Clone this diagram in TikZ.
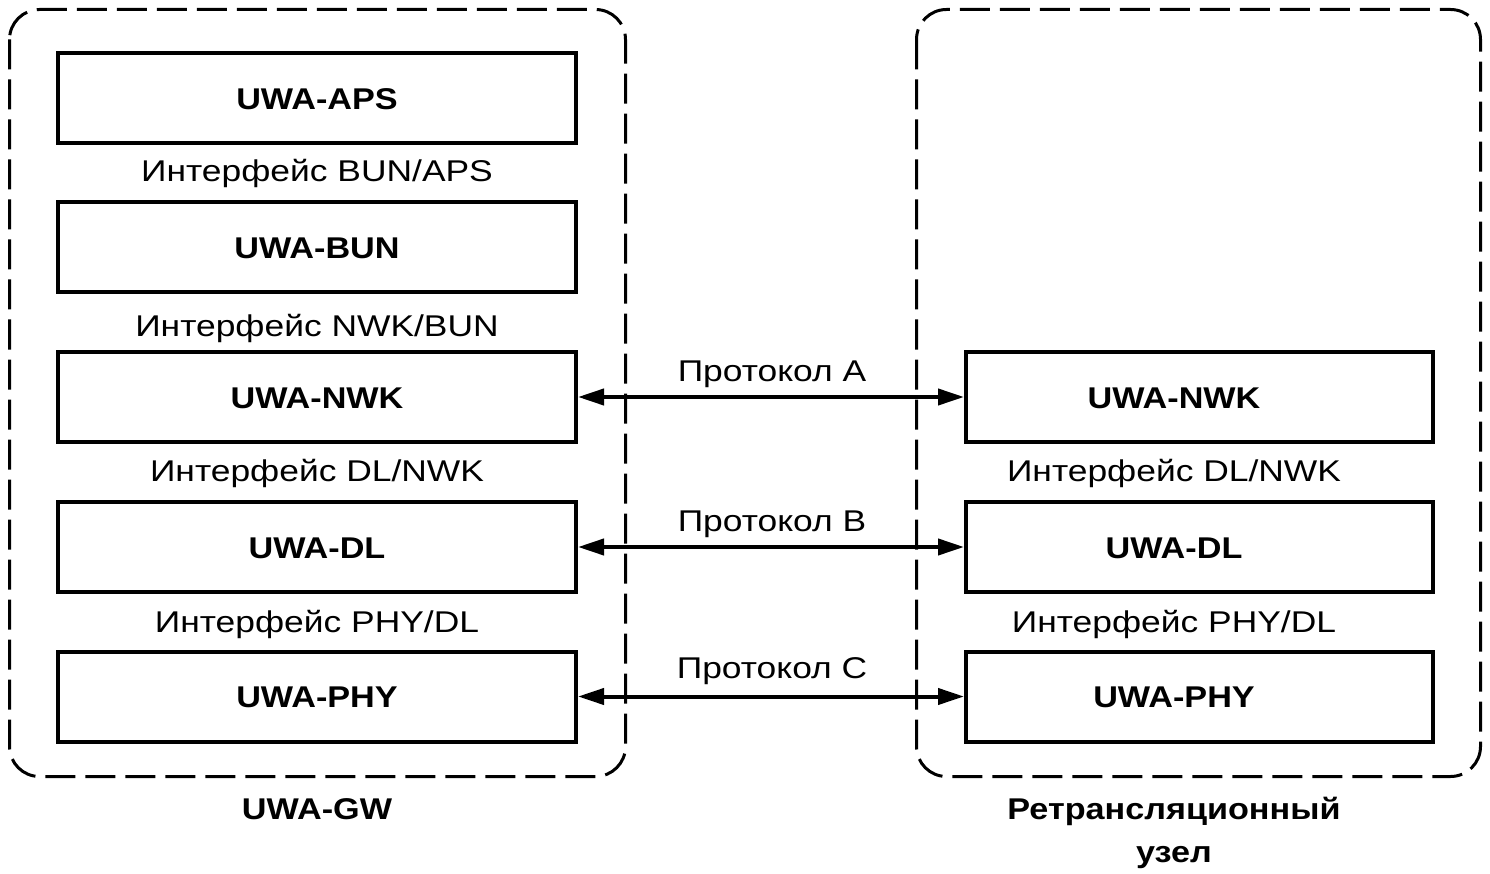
\documentclass[tikz,border=0pt]{standalone}
\usepackage{fontspec}
\setmainfont[FakeStretch=1.18,BoldFeatures={FakeStretch=1.14}]{Liberation Sans}
\usetikzlibrary{arrows.meta}
\begin{document}
\begin{tikzpicture}[x=1pt,y=-1pt,
  layer/.style={draw, line width=4pt, minimum height=90pt, inner sep=0pt},
  lbox/.style={layer, minimum width=518pt},
  rbox/.style={layer, minimum width=467pt},
  btxt/.style={anchor=base, font=\fontsize{30}{36}\selectfont\bfseries, inner sep=0pt},
  rtxt/.style={anchor=base, font=\fontsize{30}{36}\selectfont, inner sep=0pt},
  cont/.style={draw, line width=3pt, dash pattern=on 30pt off 10pt, rounded corners=30pt},
  proto/.style={line width=4pt, {Triangle[length=26pt,width=16pt]}-{Triangle[length=26pt,width=16pt]}}
]
\useasboundingbox (0,0) rectangle (1490,874);

% containers
\draw[cont] (9.5,9.5) rectangle (625.5,776.5);
\draw[cont] (916.5,9.5) rectangle (1480.5,776.5);

% left stack
\node[lbox] (laps) at (317,98.5) {};
\node[lbox] (lbun) at (317,247.5) {};
\node[lbox] (lnwk) at (317,397) {};
\node[lbox] (ldl)  at (317,547) {};
\node[lbox] (lphy) at (317,696.5) {};
\node[btxt] (tlaps) at (317,109.5) {UWA-APS};
\node[btxt] (tlbun) at (317,258.5) {UWA-BUN};
\node[btxt] (tlnwk) at (317,408) {UWA-NWK};
\node[btxt] (tldl)  at (317,558) {UWA-DL};
\node[btxt] (tlphy) at (317,707.5) {UWA-PHY};

\node[rtxt] (i1) at (317,182) {Интерфейс BUN/APS};
\node[rtxt] (i2) at (317,336) {Интерфейс NWK/BUN};
\node[rtxt] (i3) at (317,481) {Интерфейс DL/NWK};
\node[rtxt] (i4) at (317,632) {Интерфейс PHY/DL};

% right stack
\node[rbox] (rnwk) at (1199.5,397) {};
\node[rbox] (rdl)  at (1199.5,547) {};
\node[rbox] (rphy) at (1199.5,696.5) {};
\node[btxt] (trnwk) at (1174,408) {UWA-NWK};
\node[btxt] (trdl)  at (1174,558) {UWA-DL};
\node[btxt] (trphy) at (1174,707.5) {UWA-PHY};

\node[rtxt] (j3) at (1174,481) {Интерфейс DL/NWK};
\node[rtxt] (j4) at (1174,632) {Интерфейс PHY/DL};

% protocols
\draw[proto] (lnwk.east) -- (rnwk.west);
\draw[proto] (ldl.east) -- (rdl.west);
\draw[proto] (lphy.east) -- (rphy.west);
\node[rtxt] (pa) at (772,381) {Протокол A};
\node[rtxt] (pb) at (772,531) {Протокол B};
\node[rtxt] (pc) at (772,678) {Протокол C};

% captions
\node[btxt] (gw) at (317,819) {UWA-GW};
\node[btxt] (rn1) at (1174,819) {Ретрансляционный};
\node[btxt] (rn2) at (1174,862) {узел};
\end{tikzpicture}
\end{document}
